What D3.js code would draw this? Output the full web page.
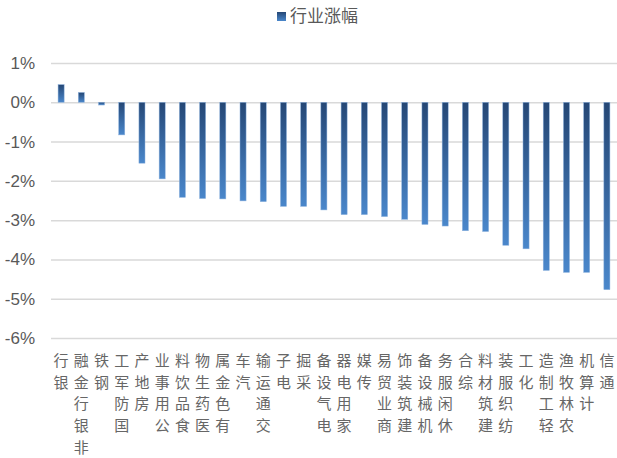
<!DOCTYPE html>
<html>
<head>
<meta charset="utf-8">
<script src="https://cdn.jsdelivr.net/npm/d3@7"></script>
<style>
  html, body { margin: 0; padding: 0; background: #fff; }
  svg { display: block; }
</style>
</head>
<body>
<svg id="chart" width="617" height="458"></svg>
<script>
// Industry returns, in percent
const categories = [
  "银行", "非银行金融", "钢铁", "国防军工", "房地产", "公用事业", "食品饮料",
  "医药生物", "有色金属", "汽车", "交通运输", "电子", "采掘", "电气设备",
  "家用电器", "传媒", "商业贸易", "建筑装饰", "机械设备", "休闲服务", "综合",
  "建筑材料", "纺织服装", "化工", "轻工制造", "农林牧渔", "计算机", "通信"
];
const values = [
  0.45, 0.25, -0.07, -0.83, -1.55, -1.95, -2.42,
  -2.45, -2.46, -2.51, -2.53, -2.65, -2.65, -2.74,
  -2.86, -2.86, -2.91, -2.98, -3.11, -3.15, -3.27,
  -3.29, -3.64, -3.73, -4.28, -4.33, -4.33, -4.77
];
const tickValues = [1, 0, -1, -2, -3, -4, -5, -6];
const seriesName = "行业涨幅";

const svg = d3.select("#chart");
const plot = { left: 51, right: 617, top: 63, bottom: 338 };
const cjk = "'Noto Sans CJK SC', sans-serif";
const textColor = "#595959";

const x = d3.scaleBand()
  .domain(categories)
  .range([plot.left, plot.right])
  .paddingInner(0.7)
  .paddingOuter(0.35);

const y = d3.scaleLinear()
  .domain([-6, 1])
  .range([plot.bottom, plot.top]);

// Per-bar vertical gradient: dark navy on top to lighter blue at the bottom
const defs = svg.append("defs");
const grad = defs.append("linearGradient")
  .attr("id", "barGrad")
  .attr("x1", 0).attr("y1", 0).attr("x2", 0).attr("y2", 1);
grad.append("stop").attr("offset", "0%").attr("stop-color", "#254775");
grad.append("stop").attr("offset", "100%").attr("stop-color", "#4a87cb");

// Horizontal gridlines
const yAxis = d3.axisLeft(y)
  .tickValues(tickValues)
  .tickSize(-(plot.right - plot.left))
  .tickFormat(d => d + "%");

const gy = svg.append("g")
  .attr("transform", `translate(${plot.left},0)`)
  .call(yAxis);
gy.select(".domain").remove();
gy.selectAll(".tick line")
  .attr("stroke", "#d9d9d9")
  .attr("stroke-width", 1.5);
gy.selectAll(".tick text")
  .attr("x", -16)
  .attr("fill", textColor)
  .style("font-family", "Arial, 'Liberation Sans', sans-serif")
  .style("font-size", "17px");

// Bars
svg.append("g")
  .selectAll("rect")
  .data(categories.map((c, i) => ({ c, v: values[i] })))
  .join("rect")
  .attr("x", d => x(d.c))
  .attr("width", x.bandwidth())
  .attr("y", d => y(Math.max(0, d.v)))
  .attr("height", d => Math.abs(y(d.v) - y(0)))
  .attr("fill", "url(#barGrad)")
  .attr("stroke", "#8fb3de")
  .attr("stroke-width", 0.5);

// Category labels, stacked vertically and read bottom-to-top
const charStep = 21.7;
const labels = svg.append("g")
  .selectAll("g")
  .data(categories)
  .join("g")
  .attr("transform", d => `translate(${x(d) + x.bandwidth() / 2},0)`);

labels.each(function(name) {
  const chars = Array.from(name).reverse();
  d3.select(this).selectAll("text")
    .data(chars)
    .join("text")
    .attr("x", 0)
    .attr("y", (ch, j) => 366 + j * charStep)
    .attr("text-anchor", "middle")
    .attr("fill", "#666")
    .style("font-family", cjk)
    .style("font-size", "15px")
    .text(ch => ch);
});

// Legend
const legend = svg.append("g").attr("transform", "translate(277,12)");
legend.append("rect")
  .attr("width", 9).attr("height", 9)
  .attr("fill", "url(#barGrad)");
legend.append("text")
  .attr("x", 13).attr("y", 9.5)
  .attr("fill", textColor)
  .style("font-family", cjk)
  .style("font-size", "17px")
  .text(seriesName);
</script>
</body>
</html>
